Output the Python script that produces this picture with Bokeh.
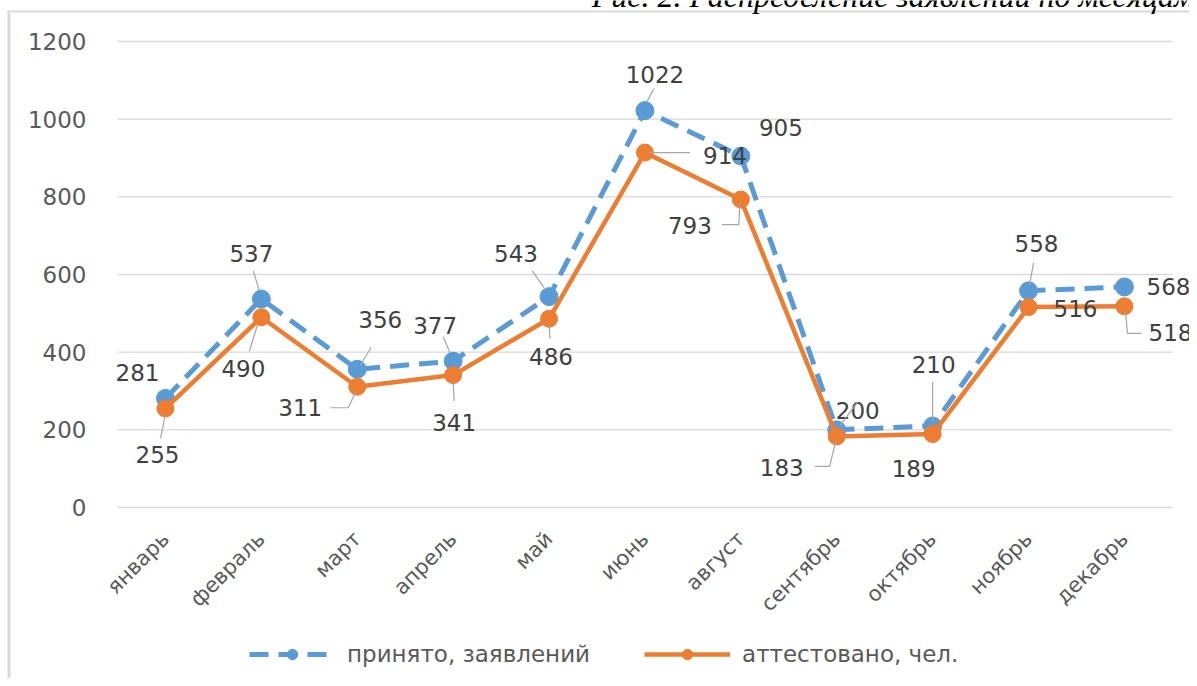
import numpy as np
from bokeh.plotting import figure
from bokeh.models import (Range1d, FixedTicker, ColumnDataSource, Legend, LegendItem,
                          BoxAnnotation, Label)
from bokeh.core.properties import value
from bokeh.embed import file_html
from bokeh.resources import INLINE

# ---- data ----
months = ["январь", "февраль", "март", "апрель", "май", "июнь", "август",
          "сентябрь", "октябрь", "ноябрь", "декабрь"]
accepted = [281, 537, 356, 377, 543, 1022, 905, 200, 210, 558, 568]
certified = [255, 490, 311, 341, 486, 914, 793, 183, 189, 516, 518]
y_ticks = [0, 200, 400, 600, 800, 1000, 1200]
series_names = ["принято, заявлений", "аттестовано, чел."]
caption = "Рис. 2. Распределение заявлений по месяцам"

# ---- style ----
BLUE = "#5B9BD5"
ORANGE = "#ED7D31"
FONT = "DejaVu Sans"
W, H = 1189, 678
X_PX = 95.9             # px per category
Y_PX = 466.0 / 1200.0   # px per unit
ZERO_Y = 507            # canvas y of value 0
CAT_LEFT = 117          # canvas x where the first category band starts
YAXIS_X = 95            # canvas x of the value axis
XAXIS_Y = 515           # canvas y of the category axis
x0 = -0.5 - CAT_LEFT / X_PX
x1 = x0 + W / X_PX
y_lo = -(H - ZERO_Y) / Y_PX
y_hi = y_lo + H / Y_PX

p = figure(width=W, height=H, output_backend="svg", toolbar_location=None,
           x_range=Range1d(x0, x1), y_range=Range1d(y_lo, y_hi),
           min_border_left=0, min_border_right=0, min_border_top=0,
           min_border_bottom=0)
p.outline_line_color = None
p.xgrid.visible = False
p.ygrid.visible = False

xs = list(range(len(months)))

# gridlines limited to the category span
p.segment(x0=[-0.5] * len(y_ticks), x1=[10.5] * len(y_ticks), y0=y_ticks, y1=y_ticks,
          line_color="#d9d9d9", line_width=1.3)

# axes
p.yaxis.ticker = FixedTicker(ticks=y_ticks)
p.yaxis.fixed_location = x0 + YAXIS_X / X_PX
p.yaxis.axis_line_color = None
p.yaxis.major_tick_line_color = None
p.yaxis.minor_tick_line_color = None
p.yaxis.major_label_text_font = FONT
p.yaxis.major_label_text_font_size = "23px"
p.yaxis.major_label_text_color = "#595959"
p.yaxis.major_label_standoff = 3

p.xaxis.ticker = FixedTicker(ticks=xs)
p.xaxis.fixed_location = -(XAXIS_Y - ZERO_Y) / Y_PX
p.xaxis.major_label_overrides = {i: m for i, m in enumerate(months)}
p.xaxis.major_label_orientation = np.pi / 4
p.xaxis.axis_line_color = None
p.xaxis.major_tick_line_color = None
p.xaxis.minor_tick_line_color = None
p.xaxis.major_label_text_font = FONT
p.xaxis.major_label_text_font_size = "21px"
p.xaxis.major_label_text_color = "#595959"
p.xaxis.major_label_standoff = 14

# series
bl = p.line(xs, accepted, line_color=BLUE, line_width=5, line_dash="19 10")
bs = p.scatter(xs, accepted, size=18, fill_color=BLUE, line_color=BLUE)
ol = p.line(xs, certified, line_color=ORANGE, line_width=4.5)
os_ = p.scatter(xs, certified, size=17, fill_color=ORANGE, line_color=ORANGE)

# data label offsets (px, screen: +x right, +y down)
b_off = [(-28, -26), (-10, -45), (23, -50), (-18, -36), (-33, -43), (10, -36),
         (40, -29), (21, -19), (1, -61), (8, -47), (44, 0)]
o_off = [(-8, 46), (-18, 51), (-57, 21), (1, 47), (2, 38), (80, 3),
         (-51, 26), (-55, 31), (-19, 34), (47, 1), (46, 26)]

for vals, offs in ((accepted, b_off), (certified, o_off)):
    src = ColumnDataSource(dict(x=xs, y=vals, t=[str(v) for v in vals],
                                dx=[o[0] for o in offs], dy=[o[1] for o in offs]))
    p.text(x="x", y="y", text="t", x_offset="dx", y_offset="dy", source=src,
           text_font=value(FONT), text_font_size="23px", text_color="#404040",
           text_align="center", text_baseline="middle")

# leader lines: (series, index, list of px offsets from the point)
leaders = [
    (accepted, 1, [(-2, -8), (-8, -28)]),
    (accepted, 2, [(3, -4), (14, -22)]),
    (accepted, 3, [(-3, -8), (-10, -24)]),
    (accepted, 4, [(-5, -9), (-17, -26)]),
    (accepted, 5, [(2, -9), (9, -22)]),
    (accepted, 7, [(3, -4), (21, -28)]),
    (accepted, 8, [(0, -4), (0, -44)]),
    (accepted, 9, [(1, -6), (5, -28)]),
    (certified, 0, [(0, 6), (-5, 30)]),
    (certified, 1, [(-4, 8), (-12, 34)]),
    (certified, 2, [(-1, 4), (-9, 21), (-27, 21)]),
    (certified, 3, [(0, 6), (1, 26)]),
    (certified, 4, [(0, 6), (1, 20)]),
    (certified, 5, [(4, 0), (45, 0)]),
    (certified, 6, [(-1, 3), (-2, 25), (-19, 25)]),
    (certified, 7, [(-1, 4), (-7, 30), (-22, 30)]),
    (certified, 10, [(1, 4), (3, 27), (17, 27)]),
]
lx, ly = [], []
for ser, i, pts in leaders:
    lx.append([i + dx / X_PX for dx, dy in pts])
    ly.append([ser[i] - dy / Y_PX for dx, dy in pts])
p.multi_line(lx, ly, line_color="#a6a6a6", line_width=1.2)

legend = Legend(items=[LegendItem(label=series_names[0], renderers=[bl, bs]),
                       LegendItem(label=series_names[1], renderers=[ol, os_])],
                orientation="horizontal", location=(249, 11),
                background_fill_alpha=0, border_line_color=None,
                label_text_font=FONT, label_text_font_size="23px",
                label_text_color="#595959", glyph_width=86, glyph_height=26,
                spacing=54, label_standoff=12, padding=4, margin=0)
p.add_layout(legend, "center")

# chart box border and the cut-off caption of the source page
p.add_layout(BoxAnnotation(left=7, right=10, top=10, bottom=H + 10,
                           left_units="canvas", right_units="canvas",
                           top_units="canvas", bottom_units="canvas",
                           fill_color="#d9d9d9", fill_alpha=1, line_color=None))
p.add_layout(BoxAnnotation(left=7, right=W + 10, top=10, bottom=12,
                           left_units="canvas", right_units="canvas",
                           top_units="canvas", bottom_units="canvas",
                           fill_color="#d9d9d9", fill_alpha=1, line_color=None))
p.add_layout(Label(x=1194, y=-5, x_units="canvas", y_units="canvas", text=caption,
                   text_align="right", text_baseline="alphabetic",
                   text_font="Liberation Serif", text_font_style="italic",
                   text_font_size="32px", text_color="#000000"))

open("out.html", "w").write(file_html(p, INLINE))
